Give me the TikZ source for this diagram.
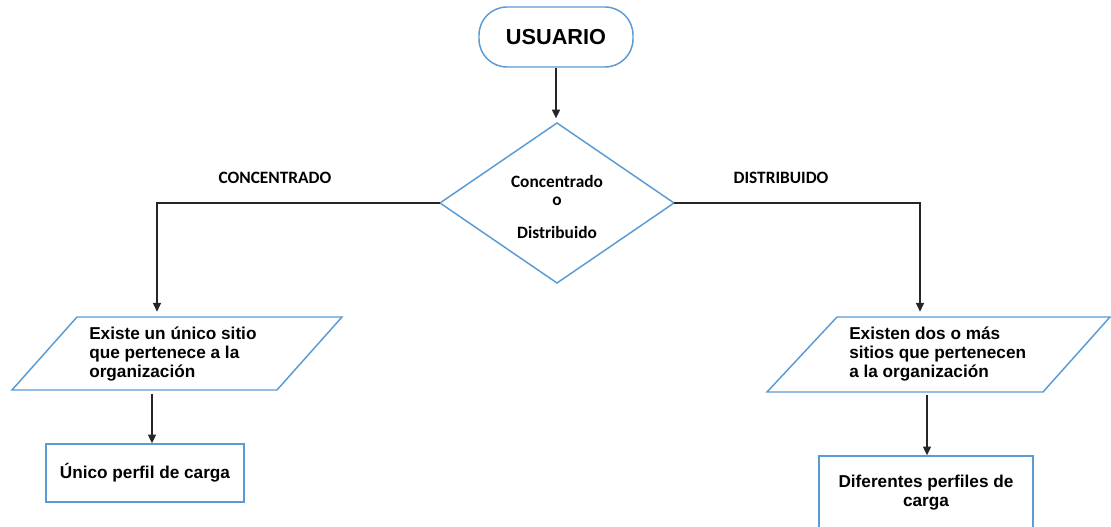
\documentclass[tikz,border=0pt]{standalone}
\usepackage{fontspec}
\setmainfont{Liberation Sans}
\newfontfamily\calib{Carlito}
\usetikzlibrary{arrows.meta}
\definecolor{bl}{RGB}{91,155,213}
\begin{document}
\begin{tikzpicture}[x=0.75pt,y=-0.75pt,
  shapeline/.style={draw=bl,line width=1.1pt},
  conn/.style={line width=0.9pt,draw=black!85,-{Triangle[width=6pt,length=6.5pt]}},
  arialtxt/.style={font=\fontsize{12.9}{14.3}\selectfont\bfseries,inner sep=0pt},
  calibtxt/.style={font=\calib\fontsize{13}{13.5}\selectfont\bfseries,inner sep=0pt},
  boxnode/.style={shapeline,rectangle,align=center,arialtxt}
  ]
\clip (0,0) rectangle (1111,527);
\fill[white] (0,0) rectangle (1111,527);

% start
\node[shapeline,rounded corners=21pt,minimum width=115.5pt,minimum height=45pt,
      font=\fontsize{16.3}{18}\selectfont\bfseries] (user) at (556,37) {USUARIO};

% decision
\coordinate (dT) at (557,123);
\coordinate (dR) at (674,203);
\coordinate (dB) at (557,283);
\coordinate (dL) at (440,203);
\draw[shapeline] (dT) -- (dR) -- (dB) -- (dL) -- cycle;
\node[calibtxt,align=center] (dtext) at (557,207) {Concentrado\\ o\\[11.25pt] Distribuido};

% branch labels
\node[calibtxt] (lconc) at (275,178) {CONCENTRADO};
\node[calibtxt] (ldist) at (781,178) {DISTRIBUIDO};

% left parallelogram
\coordinate (p1a) at (77,317);
\coordinate (p1b) at (342,317);
\coordinate (p1c) at (277,390);
\coordinate (p1d) at (12,390);
\draw[shapeline] (p1a) -- (p1b) -- (p1c) -- (p1d) -- cycle;
\coordinate (p1top) at (157,317);
\coordinate (p1bot) at (152,394);
\node[arialtxt,align=left,anchor=west] (t1) at (89,354)
  {Existe un único sitio\\ que pertenece a la\\ organización};

% right parallelogram
\coordinate (p2a) at (837,317);
\coordinate (p2b) at (1110,317);
\coordinate (p2c) at (1043,392);
\coordinate (p2d) at (767,392);
\draw[shapeline] (p2a) -- (p2b) -- (p2c) -- (p2d) -- cycle;
\coordinate (p2top) at (920,317);
\coordinate (p2bot) at (927,395);
\node[arialtxt,align=left,anchor=west] (t2) at (849,354)
  {Existen dos o más\\ sitios que pertenecen\\ a la organización};

% result boxes
\node[boxnode,minimum width=148.5pt,minimum height=43.5pt] (r1) at (145,473)
  {Único perfil de carga};
\node[boxnode,minimum width=160.5pt,minimum height=55.5pt] (r2) at (926,493)
  {Diferentes perfiles de\\ carga};

% connectors
\draw[conn,shorten >=3.5pt] (user.south) -- (user.south |- dT);
\draw[conn,shorten >=4pt] (dL) -| (p1top);
\draw[conn,shorten >=4pt] (dR) -| (p2top);
\draw[conn] (p1bot) -- (p1bot |- r1.north);
\draw[conn] (p2bot) -- (p2bot |- r2.north);
\end{tikzpicture}
\end{document}
